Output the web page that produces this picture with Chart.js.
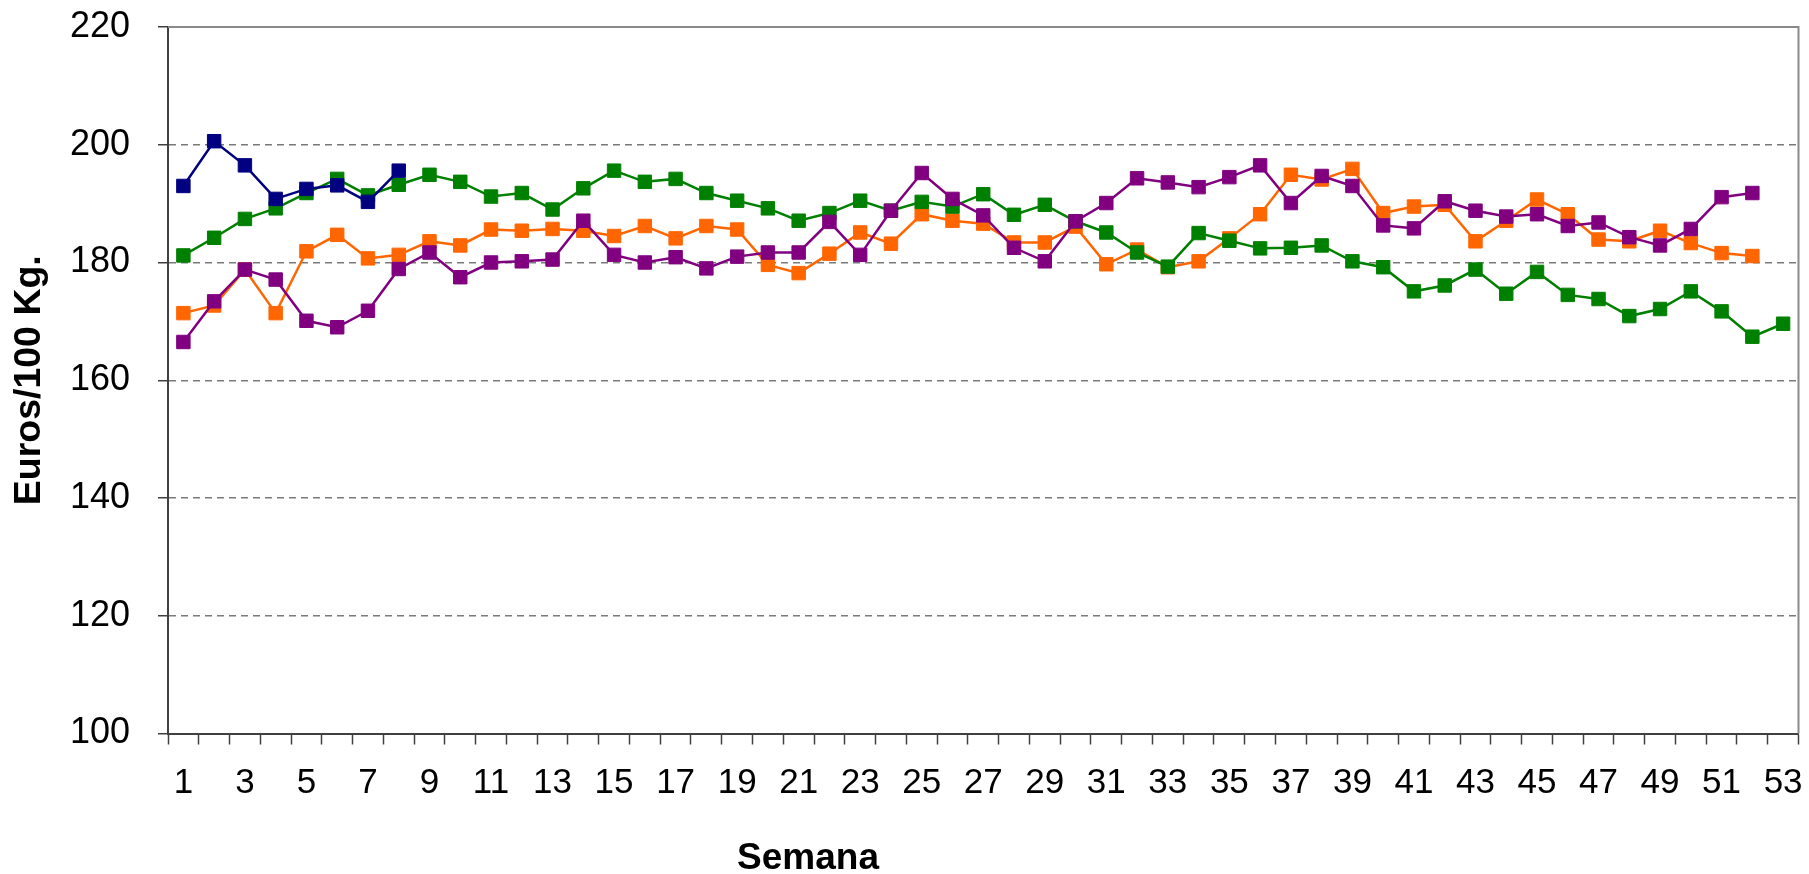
<!DOCTYPE html>
<html>
<head>
<meta charset="utf-8">
<script src="https://cdn.jsdelivr.net/npm/chart.js@4"></script>
<style>
  html, body { margin: 0; padding: 0; background: #ffffff; }
  #wrap { width: 1809px; height: 874px; position: relative; }
</style>
</head>
<body>
<div id="wrap"><canvas id="c"></canvas></div>
<script>
const weeks = ['1','2','3','4','5','6','7','8','9','10','11','12','13','14','15','16','17','18','19','20',
  '21','22','23','24','25','26','27','28','29','30','31','32','33','34','35','36','37','38','39','40',
  '41','42','43','44','45','46','47','48','49','50','51','52','53'];

const navySeries = [193.0, 200.6, 196.5, 190.8, 192.5, 193.1, 190.3, 195.6];

const greenSeries = [181.2, 184.2, 187.4, 189.2, 191.8, 194.2, 191.4, 193.2, 194.9, 193.7,
  191.2, 191.8, 189.0, 192.6, 195.6, 193.7, 194.2, 191.8, 190.5, 189.2,
  187.1, 188.4, 190.5, 188.8, 190.3, 189.5, 191.6, 188.1, 189.8, 187.0,
  185.1, 181.7, 179.3, 185.0, 183.7, 182.4, 182.5, 182.9, 180.2, 179.2,
  175.1, 176.1, 178.8, 174.7, 178.4, 174.5, 173.8, 170.9, 172.1, 175.1,
  171.7, 167.4, 169.6];

const orangeSeries = [171.4, 172.7, 178.8, 171.4, 181.9, 184.7, 180.7, 181.3, 183.6, 182.9,
  185.6, 185.4, 185.7, 185.4, 184.5, 186.2, 184.1, 186.2, 185.6, 179.6,
  178.2, 181.5, 185.1, 183.2, 188.2, 187.1, 186.6, 183.4, 183.4, 186.1,
  179.7, 182.2, 179.2, 180.2, 184.1, 188.2, 194.9, 194.1, 195.9, 188.4,
  189.5, 189.8, 183.6, 187.1, 190.7, 188.2, 183.9, 183.6, 185.4, 183.3,
  181.6, 181.1];

const purpleSeries = [166.5, 173.4, 178.8, 177.1, 170.1, 169.0, 171.8, 178.9, 181.7, 177.5,
  180.0, 180.2, 180.5, 187.1, 181.3, 180.0, 180.9, 179.0, 181.0, 181.7,
  181.7, 186.9, 181.3, 188.8, 195.2, 190.8, 188.0, 182.5, 180.2, 187.0,
  190.1, 194.3, 193.6, 192.8, 194.5, 196.5, 190.1, 194.7, 193.0, 186.3,
  185.8, 190.4, 188.8, 187.8, 188.2, 186.2, 186.8, 184.3, 182.9, 185.7,
  191.1, 191.8];

const yTitle = 'Euros/100 Kg.';
const xTitle = 'Semana';
const FONT = "'Liberation Sans', Arial, sans-serif";

function ds(data, color) {
  return {
    data: data,
    borderColor: color,
    backgroundColor: color,
    borderWidth: 2.5,
    tension: 0,
    pointStyle: 'rect',
    pointRadius: 9.5,
    pointHoverRadius: 9.5,
    pointBorderWidth: 1,
    pointBackgroundColor: color,
    pointBorderColor: color,
    fill: false
  };
}

function noPad(scale) {
  scale.paddingTop = 0;
  scale.paddingBottom = 0;
  scale.paddingLeft = 0;
  scale.paddingRight = 0;
}

const framePlugin = {
  id: 'frame',
  beforeDatasetsDraw(chart) {
    const {ctx, chartArea: a} = chart;
    ctx.save();
    ctx.strokeStyle = '#8a8a8a';
    ctx.lineWidth = 2;
    ctx.beginPath();
    ctx.moveTo(a.left, a.top);
    ctx.lineTo(a.right, a.top);
    ctx.lineTo(a.right, a.bottom);
    ctx.stroke();
    ctx.restore();
  },
  afterDraw(chart) {
    const {ctx} = chart;
    ctx.save();
    ctx.fillStyle = '#000000';
    ctx.font = 'bold 37px ' + FONT;
    ctx.textAlign = 'center';
    ctx.textBaseline = 'alphabetic';
    ctx.fillText(xTitle, 808, 869);
    ctx.restore();
  }
};

new Chart(document.getElementById('c'), {
  type: 'line',
  data: {
    labels: weeks,
    datasets: [
      ds(purpleSeries, '#800080'),
      ds(navySeries, '#000080'),
      ds(greenSeries, '#008000'),
      ds(orangeSeries, '#FF6600')
    ]
  },
  plugins: [framePlugin],
  options: {
    responsive: true,
    maintainAspectRatio: false,
    animation: false,
    layout: { padding: { top: 27, right: 10, left: 0, bottom: 0 } },
    plugins: {
      legend: { display: false },
      tooltip: { enabled: false },
      title: { display: false }
    },
    scales: {
      x: {
        type: 'category',
        offset: true,
        afterFit(scale) { scale.height = 140.5; noPad(scale); },
        grid: {
          display: true,
          offset: true,
          drawOnChartArea: false,
          drawTicks: true,
          tickLength: 11,
          tickColor: '#404040',
          tickWidth: 1.5,
          tickBorderDash: []
        },
        border: { display: true, color: '#404040', width: 2 },
        ticks: {
          autoSkip: false,
          maxRotation: 0,
          minRotation: 0,
          padding: 18,
          color: '#000000',
          font: { family: FONT, size: 35 },
          callback: function (value, index) {
            return index % 2 === 0 ? weeks[index] : '';
          }
        },
        title: { display: false }
      },
      y: {
        min: 100,
        max: 220,
        afterFit(scale) { scale.width = 168; noPad(scale); },
        grid: {
          color: (c) => (c.tick && (c.tick.value === 100 || c.tick.value === 220)) ? 'rgba(0,0,0,0)' : '#7a7a7a',
          lineWidth: 1.5,
          drawTicks: true,
          tickLength: 10,
          tickColor: '#404040',
          tickWidth: 1.5,
          tickBorderDash: []
        },
        border: { display: true, color: '#404040', width: 2, dash: [7, 5] },
        ticks: {
          stepSize: 20,
          padding: 28,
          color: '#000000',
          font: { family: FONT, size: 36 }
        },
        title: {
          display: true,
          text: yTitle,
          color: '#000000',
          font: { family: FONT, size: 37.5, weight: 'bold', lineHeight: 1 },
          padding: { top: 11, bottom: 0 }
        }
      }
    }
  }
});
</script>
</body>
</html>
